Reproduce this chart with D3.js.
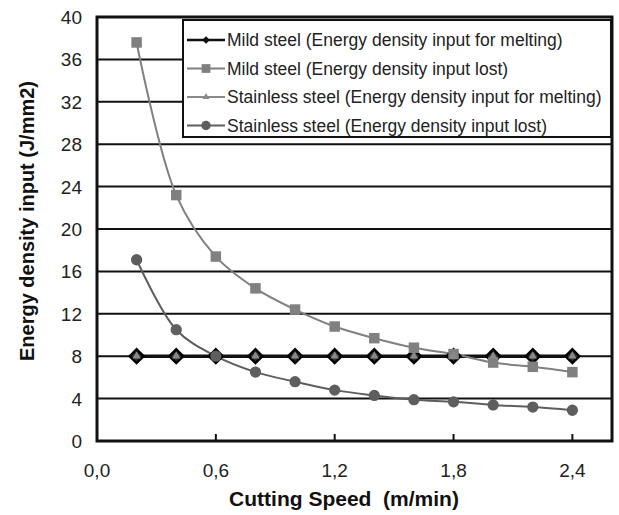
<!DOCTYPE html>
<html>
<head>
<meta charset="utf-8">
<script src="https://cdn.jsdelivr.net/npm/d3@7"></script>
<style>
  body { margin: 0; background: #fff; }
  text { font-family: "Liberation Sans", Arial, sans-serif; }
</style>
</head>
<body>
<div id="chart" style="width:619px;height:515px"></div>
<script>
// cutting speed (m/min)
const speeds = [0.2, 0.4, 0.6, 0.8, 1.0, 1.2, 1.4, 1.6, 1.8, 2.0, 2.2, 2.4];
const mildMelt = [8, 8, 8, 8, 8, 8, 8, 8, 8, 8, 8, 8];
const mildLost = [37.6, 23.2, 17.4, 14.4, 12.4, 10.8, 9.7, 8.8, 8.2, 7.4, 7.0, 6.5];
const stainMelt = [8, 8, 8, 8, 8, 8, 8, 8, 8, 8, 8, 8];
const stainLost = [17.1, 10.5, 8.0, 6.5, 5.6, 4.8, 4.3, 3.9, 3.7, 3.4, 3.2, 2.9];
const xTicks = [0, 0.6, 1.2, 1.8, 2.4];
const yTicks = [0, 4, 8, 12, 16, 20, 24, 28, 32, 36, 40];
const seriesNames = [
  "Mild steel (Energy density input for melting)",
  "Mild steel (Energy density input lost)",
  "Stainless steel (Energy density input for melting)",
  "Stainless steel (Energy density input lost)"
];

const width = 619, height = 515;
const margin = { top: 17, right: 7, bottom: 74, left: 97 };

const svg = d3.select("#chart").append("svg")
  .attr("width", width)
  .attr("height", height);

const x = d3.scaleLinear().domain([0, 2.6]).range([margin.left, width - margin.right]);
const y = d3.scaleLinear().domain([0, 40]).range([height - margin.bottom, margin.top]);

// diamond = square turned 45deg
const series = [
  { name: seriesNames[0], values: mildMelt, color: "#111", lineWidth: 3.5, symbol: d3.symbolSquare, rot: 45, size: 95 },
  { name: seriesNames[1], values: mildLost, color: "#808080", lineWidth: 2, symbol: d3.symbolSquare, rot: 0, size: 110 },
  { name: seriesNames[2], values: stainMelt, color: "#8a8a8a", lineWidth: 2, symbol: d3.symbolTriangle, rot: 0, size: 30 },
  { name: seriesNames[3], values: stainLost, color: "#5e5e5e", lineWidth: 2, symbol: d3.symbolCircle, rot: 0, size: 100 }
];

// gridlines
svg.append("g")
  .selectAll("line")
  .data(yTicks.slice(1, -1))
  .enter().append("line")
  .attr("x1", x(0)).attr("x2", x(2.6))
  .attr("y1", d => y(d)).attr("y2", d => y(d))
  .attr("stroke", "#111")
  .attr("stroke-width", 2);

// y tick labels
svg.append("g")
  .selectAll("text")
  .data(yTicks)
  .enter().append("text")
  .attr("x", 82)
  .attr("y", d => y(d) + 7)
  .attr("text-anchor", "end")
  .attr("font-size", "19px")
  .attr("fill", "#222")
  .text(d => d);

// x ticks + labels
const xFmt = d => d3.format(".1f")(d).replace(".", ",");
svg.append("g")
  .selectAll("line")
  .data(xTicks.slice(1))
  .enter().append("line")
  .attr("x1", d => x(d)).attr("x2", d => x(d))
  .attr("y1", y(0)).attr("y2", y(0) - 7)
  .attr("stroke", "#111")
  .attr("stroke-width", 2);

svg.append("g")
  .selectAll("text")
  .data(xTicks)
  .enter().append("text")
  .attr("x", d => x(d))
  .attr("y", 477)
  .attr("text-anchor", "middle")
  .attr("font-size", "19px")
  .attr("fill", "#222")
  .text(xFmt);

// lines (melting lines: stainless under, mild on top)
const line = d3.line()
  .x((d, i) => x(speeds[i]))
  .y(d => y(d))
  .curve(d3.curveCatmullRom.alpha(0.5));

const drawOrder = [series[2], series[0], series[1], series[3]];
drawOrder.forEach(s => {
  svg.append("path")
    .datum(s.values)
    .attr("fill", "none")
    .attr("stroke", s.color)
    .attr("stroke-width", s.lineWidth)
    .attr("d", line);
});

series.forEach(s => {
  svg.append("g")
    .selectAll("path")
    .data(s.values)
    .enter().append("path")
    .attr("transform", (d, i) => `translate(${x(speeds[i])},${y(d)}) rotate(${s.rot})`)
    .attr("d", d3.symbol().type(s.symbol).size(s.size))
    .attr("fill", s === series[0] ? "#333" : s.color)
    .attr("stroke", s === series[0] ? "#000" : "none")
    .attr("stroke-width", 2.5);
});

// plot frame
svg.append("rect")
  .attr("x", x(0)).attr("y", y(40))
  .attr("width", x(2.6) - x(0))
  .attr("height", y(0) - y(40))
  .attr("fill", "none")
  .attr("stroke", "#111")
  .attr("stroke-width", 3);

// legend
const legend = svg.append("g");
legend.append("rect")
  .attr("x", 183).attr("y", 20)
  .attr("width", 428).attr("height", 117)
  .attr("fill", "#fff")
  .attr("stroke", "#111")
  .attr("stroke-width", 2);

series.forEach((s, i) => {
  const ly = 40 + i * 28.5;
  legend.append("line")
    .attr("x1", 187).attr("x2", 225)
    .attr("y1", ly).attr("y2", ly)
    .attr("stroke", s.color)
    .attr("stroke-width", i === 0 ? 2.5 : s.lineWidth);
  legend.append("path")
    .attr("transform", `translate(206,${ly}) rotate(${s.rot})`)
    .attr("d", d3.symbol().type(s.symbol).size(i === 0 ? 30 : s.size * 0.7))
    .attr("fill", s.color);
  legend.append("text")
    .attr("x", 227)
    .attr("y", ly + 6)
    .attr("font-size", "17.5px")
    .attr("fill", "#222")
    .text(s.name);
});

// axis titles
svg.append("text")
  .attr("x", 344)
  .attr("y", 506)
  .attr("text-anchor", "middle")
  .attr("font-size", "21px")
  .attr("font-weight", "bold")
  .attr("fill", "#111")
  .style("white-space", "pre")
  .text("Cutting Speed  (m/min)");

svg.append("text")
  .attr("transform", "translate(34,221) rotate(-90)")
  .attr("text-anchor", "middle")
  .attr("font-size", "20px")
  .attr("font-weight", "bold")
  .attr("fill", "#111")
  .text("Energy density input (J/mm2)");
</script>
</body>
</html>
